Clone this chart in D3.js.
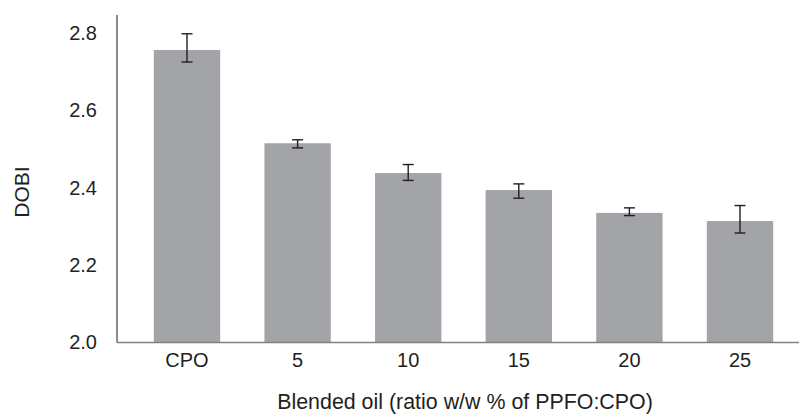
<!DOCTYPE html>
<html><head><meta charset="utf-8">
<script src="https://cdn.jsdelivr.net/npm/d3@7"></script>
<style>body{margin:0;background:#fff}svg{display:block}text{font-family:"Liberation Sans",Arial,sans-serif;fill:#231f20}</style>
</head><body><svg id="c" width="799" height="414"></svg>
<script>
const categories = ["CPO","5","10","15","20","25"];
const dobi = [2.756, 2.515, 2.438, 2.394, 2.335, 2.314];
const errTop = [2.798, 2.524, 2.460, 2.410, 2.348, 2.354];
const errBottom = [2.725, 2.503, 2.419, 2.373, 2.328, 2.283];
const yTicks = [2.0, 2.2, 2.4, 2.6, 2.8];
const xTitle = "Blended oil (ratio w/w % of PPFO:CPO)";
const yTitle = "DOBI";

const svg = d3.select("#c");
const y = d3.scaleLinear().domain([2.0, 2.8]).range([342.5, 33]);
const x = d3.scaleBand().domain(categories).range([131.7, 795.3]).paddingInner(0.4).paddingOuter(0.2);
const axisLeftX = 117;

// bars
svg.selectAll("rect.bar").data(categories).join("rect")
  .attr("x", d => x(d)).attr("width", x.bandwidth())
  .attr("y", (d,i) => y(dobi[i])).attr("height", (d,i) => y(2.0) - y(dobi[i]))
  .attr("fill", "#a3a4a8");

// axes
const yAxis = d3.axisLeft(y).tickValues(yTicks).tickFormat(d3.format(".1f")).tickSize(0).tickPadding(20);
const gy = svg.append("g").attr("transform", `translate(${axisLeftX},0)`).call(yAxis);
gy.select(".domain").remove();
gy.selectAll("text").attr("font-size", 20).attr("fill", "#231f20").style("font-family", '"Liberation Sans",Arial,sans-serif');
svg.append("line").attr("x1", axisLeftX).attr("x2", axisLeftX).attr("y1", 15).attr("y2", y(2.0))
  .attr("stroke", "#666").attr("stroke-width", 1.5);

const xAxis = d3.axisBottom(x).tickSize(0).tickPadding(10);
const gx = svg.append("g").attr("transform", `translate(0,${y(2.0)})`).call(xAxis);
gx.select(".domain").remove();
gx.selectAll("text").attr("font-size", 20).attr("fill", "#231f20").style("font-family", '"Liberation Sans",Arial,sans-serif');
svg.append("line").attr("x1", axisLeftX).attr("x2", 799).attr("y1", y(2.0)).attr("y2", y(2.0))
  .attr("stroke", "#808080").attr("stroke-width", 1.5);

// error bars
const eb = svg.append("g").attr("stroke", "#231f20").attr("stroke-width", 1.4);
categories.forEach((c, i) => {
  const cx = x(c) + x.bandwidth() / 2;
  eb.append("line").attr("x1", cx).attr("x2", cx).attr("y1", y(errTop[i])).attr("y2", y(errBottom[i]));
  eb.append("line").attr("x1", cx - 5.5).attr("x2", cx + 5.5).attr("y1", y(errTop[i])).attr("y2", y(errTop[i]));
  eb.append("line").attr("x1", cx - 5.5).attr("x2", cx + 5.5).attr("y1", y(errBottom[i])).attr("y2", y(errBottom[i]));
});

// titles
svg.append("text").attr("x", 465).attr("y", 409).attr("text-anchor", "middle").attr("font-size", 21.4).text(xTitle);
svg.append("text").attr("transform", "translate(28.5,192) rotate(-90)").attr("text-anchor", "middle").attr("font-size", 21).text(yTitle);
</script></body></html>
